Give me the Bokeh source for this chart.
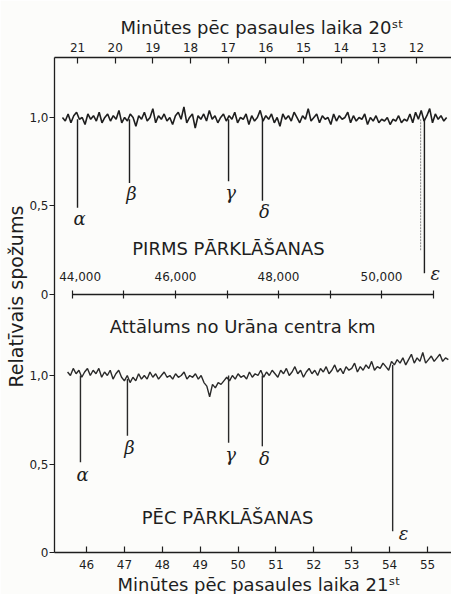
import numpy as np
from bokeh.plotting import figure
from bokeh.models import (Range1d, LinearAxis, FixedTicker, NumeralTickFormatter,
                          CustomJSTickFormatter, Label, Title, ColumnDataSource)
from bokeh.core.properties import value
from bokeh.embed import file_html
from bokeh.resources import INLINE

# ---------------- data ----------------
# light curve before occultation: minutes after 20h UT, sampled every 0.075 min
before_start_min = 21.4
before_step_min = -0.075
before_flux = [
    1.00, 0.98, 1.02, 0.97, 1.01, 1.03, 0.99, 1.00, 0.96, 1.02,
    0.99, 1.01, 0.98, 1.03, 0.97, 1.00, 1.02, 0.98, 1.01, 0.99,
    1.04, 0.97, 1.00, 0.98, 1.02, 1.00, 0.95, 1.01, 0.99, 1.03,
    0.98, 1.00, 1.05, 0.97, 1.01, 0.99, 1.02, 0.98, 1.00, 0.96,
    1.01, 1.03, 0.99, 1.06, 0.97, 1.00, 1.02, 0.94, 1.01, 0.99,
    1.02, 0.98, 1.04, 0.99, 1.01, 0.97, 1.00, 1.02, 0.98, 1.01,
    0.99, 1.03, 0.97, 1.00, 0.99, 1.02, 0.96, 1.01, 0.98, 1.00,
    1.04, 0.98, 1.01, 0.99, 1.02, 0.97, 1.00, 0.95, 1.02, 0.99,
    1.01, 0.98, 1.03, 1.00, 0.97, 1.01, 0.99, 1.05, 0.98, 1.00,
    1.02, 0.97, 1.01, 0.99, 1.00, 0.96, 1.02, 0.98, 1.01, 0.99,
    1.00, 1.03, 0.97, 1.01, 0.98, 1.00, 0.99, 1.02, 0.96, 1.00,
    0.98, 1.01, 0.97, 0.99, 0.98, 1.00, 0.96, 0.99, 0.98, 1.01,
    0.97, 0.99, 0.98, 1.02, 0.97, 1.03, 0.99, 1.04, 0.98, 1.01,
    1.05, 0.97, 1.02, 0.99, 1.01, 0.98, 1.00,
]

# light curve after occultation: minutes after 21h UT, sampled every 0.075 min
after_start_min = 45.5
after_step_min = 0.075
after_flux = [
    1.02, 1.00, 1.04, 1.01, 1.03, 0.99, 1.02, 1.04, 1.00, 1.03,
    1.01, 1.04, 0.99, 1.02, 1.00, 1.03, 0.98, 1.01, 1.03, 0.99,
    0.97, 1.00, 0.96, 0.99, 0.97, 1.01, 0.98, 1.00, 0.98, 1.02,
    0.99, 1.01, 0.98, 1.00, 1.02, 0.99, 1.00, 0.98, 1.01, 0.99,
    1.00, 1.02, 0.98, 1.00, 0.99, 1.01, 0.98, 1.00, 0.96, 0.94,
    0.88, 0.95, 0.93, 0.96, 0.95, 0.97, 0.99, 0.97, 1.00, 0.98,
    1.01, 0.99, 1.00, 0.98, 1.02, 0.99, 1.01, 1.00, 1.03, 0.99,
    1.02, 1.00, 1.03, 1.01, 0.99, 1.03, 1.01, 1.04, 1.00, 1.02,
    1.05, 1.01, 1.03, 0.99, 1.02, 1.04, 1.01, 1.03, 1.00, 1.04,
    1.02, 1.05, 1.01, 1.03, 1.06, 1.02, 1.04, 1.01, 1.05, 1.03,
    1.04, 1.07, 1.02, 1.05, 1.03, 1.06, 1.04, 1.08, 1.03, 1.05,
    1.04, 1.07, 1.05, 1.03, 1.08, 1.06, 1.09, 1.07, 1.10, 1.06,
    1.09, 1.12, 1.07, 1.10, 1.08, 1.13, 1.07, 1.09, 1.11, 1.08,
    1.10, 1.12, 1.08, 1.10, 1.09,
]

ring_names = ["α", "β", "γ", "δ", "ε"]
before_ring_min = [21.0, 19.62, 16.99, 16.09, 11.79]
before_ring_level = [0.99, 0.99, 0.99, 0.99, 0.99]
before_ring_depth = [0.49, 0.63, 0.64, 0.53, 0.12]
before_eps_edge_min = [11.89]
before_eps_edge_level = [0.99]
before_eps_edge_depth = [0.25]

after_ring_min = [45.84, 47.08, 49.75, 50.64, 54.08]
after_ring_level = [1.00, 0.98, 1.00, 1.00, 1.06]
after_ring_depth = [0.51, 0.66, 0.62, 0.60, 0.12]

before_min_ticks = [21, 20, 19, 18, 17, 16, 15, 14, 13, 12]
after_min_ticks = [46, 47, 48, 49, 50, 51, 52, 53, 54, 55]
km_major_ticks = [44000, 46000, 48000, 50000]
km_minor_ticks = [45000, 47000, 49000, 51000]
flux_ticks = [0, 0.5, 1.0]

# ---------------- layout constants ----------------
INK = "#1e1e1e"
FONT = "DejaVu Sans"
BG = "#fcfcfa"

BEFORE_FLUX_RANGE = (-1.458, 1.339)   # upper panel (same frame, stacked)
AFTER_FLUX_RANGE = (0.0, 2.797)       # lower panel
AFTER_MIN_RANGE = (45.155, 55.633)
SHIFT = AFTER_FLUX_RANGE[0] - BEFORE_FLUX_RANGE[0]

p = figure(width=451, height=594, output_backend="svg", toolbar_location=None,
           x_range=Range1d(*AFTER_MIN_RANGE), y_range=Range1d(*BEFORE_FLUX_RANGE),
           x_axis_location=None, y_axis_location=None,
           min_border_left=54, min_border_right=0, min_border_top=57,
           min_border_bottom=42)
p.extra_x_ranges = {"before_t": Range1d(21.611, 11.071),
                    "km": Range1d(43650.5, 51359.2)}
p.extra_y_ranges = {"after_f": Range1d(*AFTER_FLUX_RANGE)}
p.outline_line_color = None
p.background_fill_color = BG
p.border_fill_color = BG
p.grid.visible = False


def style_axis(ax, tick_in, tick_out, standoff, size="12px"):
    ax.axis_line_color = INK
    ax.axis_line_width = 1.3
    ax.major_tick_line_color = INK
    ax.major_tick_line_width = 1.2
    ax.major_tick_in = tick_in
    ax.major_tick_out = tick_out
    ax.minor_tick_line_color = None
    ax.major_label_text_font = FONT
    ax.major_label_text_font_size = size
    ax.major_label_text_color = INK
    ax.major_label_standoff = standoff


# one left axis carries the ticks of both stacked panels
flux_positions = list(flux_ticks) + [v - SHIFT for v in flux_ticks]
flux_fmt = CustomJSTickFormatter(args=dict(shift=SHIFT), code="""
    const v = tick < -0.2 ? tick + shift : tick;
    if (Math.abs(v) < 1e-6) { return '0'; }
    return v.toFixed(1).replace('.', ',');
""")
left_axis = LinearAxis(ticker=FixedTicker(ticks=flux_positions), formatter=flux_fmt)
style_axis(left_axis, 0, 5, 1)
p.add_layout(left_axis, "left")

left_title = Title(text="Relatīvais spožums", align="left", offset=165,
                   standoff=0, text_font=FONT, text_font_size="19px",
                   text_font_style="normal", text_color=INK)
p.add_layout(left_title, "left")

top_axis = LinearAxis(x_range_name="before_t",
                      ticker=FixedTicker(ticks=before_min_ticks))
style_axis(top_axis, 6, 0, 6)
p.add_layout(top_axis, "above")

bottom_axis = LinearAxis(ticker=FixedTicker(ticks=after_min_ticks))
style_axis(bottom_axis, 6, 0, 7)
p.add_layout(bottom_axis, "below")

km_axis = LinearAxis(x_range_name="km", fixed_location=0, bounds=(44000, 51000),
                     ticker=FixedTicker(ticks=km_major_ticks, minor_ticks=km_minor_ticks),
                     formatter=NumeralTickFormatter(format="0,0"))
style_axis(km_axis, 4, 4, 6)
km_axis.major_label_overrides = {44000: "\u2007\u200744,000"}
km_axis.minor_tick_line_color = INK
km_axis.minor_tick_line_width = 1.2
km_axis.minor_tick_in = 4
km_axis.minor_tick_out = 4
p.add_layout(km_axis, "above")

p.title.text = "Minūtes pēc pasaules laika 20ˢᵗ"
p.title.align = "left"
p.title.offset = 66
p.title.standoff = 3
p.title.text_font = FONT
p.title.text_font_size = "18px"
p.title.text_font_style = "normal"
p.title.text_color = INK

bottom_title = Title(text="Minūtes pēc pasaules laika 21ˢᵗ", align="left", offset=63,
                     standoff=0, text_font=FONT, text_font_size="18px",
                     text_font_style="normal", text_color=INK)
p.add_layout(bottom_title, "below")

# ---------------- light curves ----------------
before_t = before_start_min + before_step_min * np.arange(len(before_flux))
after_t = after_start_min + after_step_min * np.arange(len(after_flux))

p.line(before_t, before_flux, x_range_name="before_t",
       line_color=INK, line_width=1.6)
p.line(after_t, after_flux, y_range_name="after_f",
       line_color="#2a2a2a", line_width=1.4)

# ring dips
p.segment(x0=before_ring_min, y0=before_ring_level, x1=before_ring_min,
          y1=before_ring_depth, x_range_name="before_t",
          line_color=INK, line_width=1.4)
p.segment(x0=before_eps_edge_min, y0=before_eps_edge_level, x1=before_eps_edge_min,
          y1=before_eps_edge_depth, x_range_name="before_t",
          line_color="#8a8a8a", line_width=1.0, line_dash="2 1")
p.segment(x0=after_ring_min, y0=after_ring_level, x1=after_ring_min,
          y1=after_ring_depth, y_range_name="after_f",
          line_color="#2a2a2a", line_width=1.4)

# ring names
src_b = ColumnDataSource(dict(x=before_ring_min[:4], y=before_ring_depth[:4],
                              t=ring_names[:4]))
src_be = ColumnDataSource(dict(x=before_ring_min[4:], y=before_ring_depth[4:],
                               t=ring_names[4:]))
src_a = ColumnDataSource(dict(x=after_ring_min[:4], y=after_ring_depth[:4],
                              t=ring_names[:4]))
src_ae = ColumnDataSource(dict(x=after_ring_min[4:], y=after_ring_depth[4:],
                               t=ring_names[4:]))
greek = dict(text="t", text_font=value("DejaVu Serif"), text_font_style="italic",
             text_font_size="18px", text_color=INK, text_align="center",
             text_baseline="middle")
p.text(x="x", y="y", source=src_b, x_range_name="before_t", x_offset=2, y_offset=11, **greek)
p.text(x="x", y="y", source=src_be, x_range_name="before_t", x_offset=11, y_offset=0, **greek)
p.text(x="x", y="y", source=src_a, y_range_name="after_f", x_offset=2, y_offset=12, **greek)
p.text(x="x", y="y", source=src_ae, y_range_name="after_f", x_offset=11, y_offset=2, **greek)


# ---------------- texts inside the frame ----------------
def add_text(text, x, y, size, xr="default", yr="default"):
    p.add_layout(Label(x=x, y=y, x_range_name=xr, y_range_name=yr, text=text,
                       text_font=FONT, text_font_size=size, text_color=INK,
                       text_align="center", text_baseline="alphabetic"))


add_text("Attālums no Urāna centra  km", 47359, -0.181, "18px", xr="km")
add_text("PIRMS PĀRKLĀŠANAS", 16.992, 0.26, "18px", xr="before_t")
add_text("PĒC PĀRKLĀŠANAS", 49.721, 0.198, "18px", yr="after_f")

open("out.html", "w").write(file_html(p, INLINE))
